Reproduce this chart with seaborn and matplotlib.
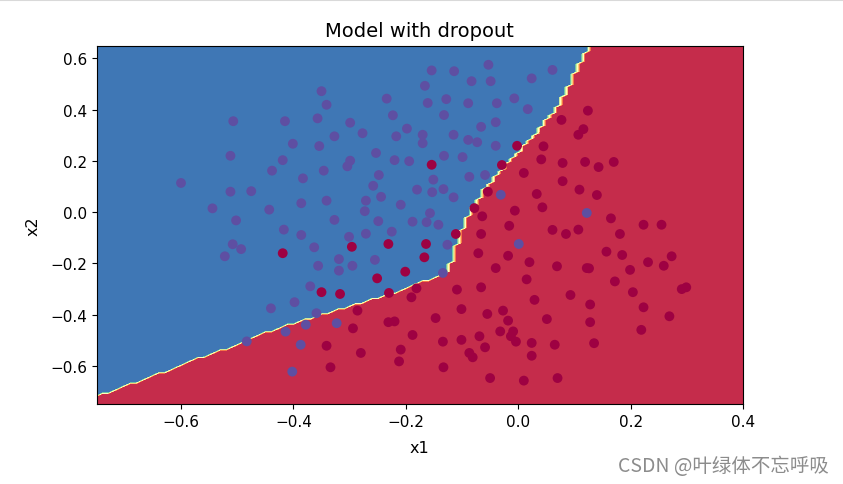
import numpy as np
import pandas as pd
import matplotlib
matplotlib.use("Agg")
import matplotlib.pyplot as plt
from matplotlib.lines import Line2D
import seaborn as sns

# ---- data: class-1 (blue) points ----
blue_x = [-0.507, -0.512, -0.350, -0.341, -0.415, -0.357, -0.299, -0.277, -0.327, -0.401,
          -0.354, -0.234, -0.223, -0.198, -0.217, -0.166, -0.161, -0.170, -0.170, -0.253,
          -0.419, -0.299, -0.304, -0.220, -0.194, -0.438, -0.383, -0.346, -0.248, -0.258,
          -0.475, -0.180, -0.386, -0.341, -0.271, -0.244, -0.209, -0.443, -0.273, -0.327,
          -0.249, -0.188, -0.417, -0.386, -0.301, -0.271, -0.225, -0.363, -0.319, -0.356,
          -0.295, -0.319, -0.255, -0.370, -0.600, -0.512, -0.544, -0.502, -0.508, -0.493,
          -0.522, -0.483, -0.440, -0.398, -0.359, -0.414, -0.378, -0.323, -0.387, -0.402,
          -0.154, -0.114, -0.053, 0.061, -0.083, -0.049, 0.024, -0.128, -0.089, -0.038,
          -0.007, 0.017, -0.132, -0.066, -0.040, -0.115, -0.089, -0.073, -0.040, -0.132,
          -0.099, -0.151, -0.133, -0.153, -0.115, -0.087, -0.059, -0.031, -0.157, -0.163,
          -0.142, 0.122, -0.126, 0.001, -0.134]
blue_y = [0.355, 0.220, 0.472, 0.419, 0.355, 0.366, 0.349, 0.308, 0.296, 0.267,
          0.258, 0.443, 0.378, 0.326, 0.296, 0.493, 0.426, 0.302, 0.269, 0.231,
          0.203, 0.201, 0.179, 0.203, 0.199, 0.162, 0.132, 0.162, 0.145, 0.103,
          0.082, 0.088, 0.035, 0.045, 0.045, 0.060, 0.029, 0.010, 0.004, -0.030,
          -0.035, -0.037, -0.068, -0.089, -0.096, -0.084, -0.076, -0.137, -0.183, -0.209,
          -0.209, -0.228, -0.186, -0.289, 0.114, 0.080, 0.015, -0.032, -0.125, -0.144,
          -0.172, -0.504, -0.375, -0.351, -0.394, -0.466, -0.439, -0.433, -0.517, -0.622,
          0.553, 0.550, 0.575, 0.555, 0.511, 0.511, 0.522, 0.441, 0.425, 0.425,
          0.444, 0.402, 0.379, 0.333, 0.351, 0.302, 0.282, 0.273, 0.259, 0.220,
          0.215, 0.127, 0.090, 0.078, 0.058, 0.138, 0.145, 0.068, -0.004, -0.039,
          -0.049, -0.003, -0.127, -0.124, -0.237]

# ---- data: class-0 (red) points ----
red_x = [-0.296, -0.419, -0.231, -0.251, -0.201, -0.164, -0.167, -0.350, -0.317, -0.230,
         -0.181, -0.190, -0.286, -0.294, -0.231, -0.220, -0.188, -0.341, -0.280, -0.209,
         -0.212, -0.334, -0.002, -0.154, -0.029, 0.077, 0.124, 0.116, 0.107, 0.045,
         0.041, 0.079, 0.119, 0.143, 0.170, -0.054, 0.010, 0.079, 0.109, 0.033,
         0.043, -0.006, -0.078, -0.064, -0.016, 0.061, 0.085, 0.107, -0.111, -0.066,
         -0.071, -0.018, -0.040, 0.020, 0.069, 0.122, 0.015, 0.140, 0.165, 0.181,
         0.223, 0.255, 0.157, 0.185, 0.273, 0.126, 0.199, 0.231, 0.259, 0.172,
         0.291, 0.299, -0.109, -0.066, 0.029, 0.093, 0.128, -0.147, -0.101, -0.055,
         -0.027, -0.018, 0.051, 0.128, -0.032, -0.009, -0.013, -0.004, -0.069, -0.134,
         -0.101, -0.059, 0.024, 0.065, -0.087, -0.081, 0.024, 0.135, -0.133, -0.050,
         0.010, 0.070, 0.204, 0.223, 0.269, 0.219]
red_y = [-0.135, -0.160, -0.124, -0.258, -0.232, -0.124, -0.176, -0.312, -0.319, -0.315,
         -0.297, -0.332, -0.384, -0.453, -0.429, -0.426, -0.479, -0.521, -0.549, -0.536,
         -0.582, -0.605, 0.259, 0.185, 0.184, 0.360, 0.396, 0.324, 0.302, 0.257,
         0.206, 0.192, 0.196, 0.176, 0.196, 0.080, 0.153, 0.121, 0.088, 0.071,
         0.019, 0.006, 0.016, -0.016, -0.053, -0.069, -0.085, -0.068, -0.085, -0.085,
         -0.160, -0.170, -0.218, -0.195, -0.211, -0.218, -0.262, 0.067, -0.024, -0.085,
         -0.049, -0.049, -0.154, -0.167, -0.172, -0.219, -0.225, -0.195, -0.209, -0.270,
         -0.300, -0.293, -0.302, -0.293, -0.342, -0.323, -0.360, -0.413, -0.378, -0.397,
         -0.384, -0.423, -0.417, -0.429, -0.465, -0.465, -0.484, -0.505, -0.484, -0.505,
         -0.498, -0.527, -0.510, -0.517, -0.549, -0.566, -0.560, -0.511, -0.605, -0.647,
         -0.657, -0.647, -0.312, -0.371, -0.406, -0.459]

# ---- data: decision boundary vertices (x of boundary as a function of y) ----
bound_y = [-0.80, -0.716, -0.666, -0.612, -0.566, -0.527, -0.482, -0.443, -0.397, -0.358,
           -0.319, -0.271, -0.234, -0.170, -0.111, -0.053, 0.000, 0.078, 0.156, 0.207,
           0.285, 0.363, 0.429, 0.520, 0.636, 0.70]
bound_x = [-0.80, -0.749, -0.685, -0.620, -0.566, -0.513, -0.468, -0.415, -0.350, -0.290,
           -0.231, -0.172, -0.130, -0.115, -0.109, -0.098, -0.086, -0.065, -0.035, -0.015,
           0.021, 0.051, 0.074, 0.095, 0.122, 0.135]

title = "Model with dropout"
xlabel = "x1"
ylabel = "x2"
watermark = "CSDN @叶绿体不忘呼吸"

# ---- build table ----
df = pd.DataFrame({
    "x1": blue_x + red_x,
    "x2": blue_y + red_y,
    "label": [1] * len(blue_x) + [0] * len(red_x),
})

plt.rcParams["font.family"] = ["DejaVu Sans"]
fig = plt.figure(figsize=(8.43, 4.85), dpi=100)
ax = fig.add_axes([0.1147, 0.164, 0.7667, 0.740])

# decision region on grid (step 0.01)
h = 0.01
xx, yy = np.meshgrid(np.arange(-0.8, 0.45, h), np.arange(-0.8, 0.72, h))
Z = (xx < np.interp(yy, bound_y, bound_x)).astype(int)
ax.contourf(xx, yy, Z, cmap=plt.cm.Spectral)

cmap = plt.cm.Spectral
sns.scatterplot(data=df, x="x1", y="x2", hue="label",
                palette={0: cmap(0.0), 1: cmap(1.0)},
                s=50, linewidth=0, legend=False, ax=ax, zorder=3)

ax.set_xlim(-0.75, 0.40)
ax.set_ylim(-0.75, 0.65)
ax.set_xticks([-0.6, -0.4, -0.2, 0.0, 0.2, 0.4])
ax.set_yticks([-0.6, -0.4, -0.2, 0.0, 0.2, 0.4, 0.6])
ax.tick_params(labelsize=11)
ax.set_title(title, fontsize=14, pad=7)
ax.set_xlabel(xlabel, fontsize=11.5, labelpad=8)
ax.set_ylabel(ylabel, fontsize=11.5, labelpad=7)

# page decorations
fig.add_artist(Line2D([0, 1], [0.998, 0.998], color="#d9d9d9", lw=1.5,
                      transform=fig.transFigure))
fig.text(0.983, 0.038, watermark, ha="right", va="center", fontsize=14,
         color="#8c8c8c", family=["Noto Sans CJK SC", "DejaVu Sans"])

fig.savefig("out.png", dpi=100)
